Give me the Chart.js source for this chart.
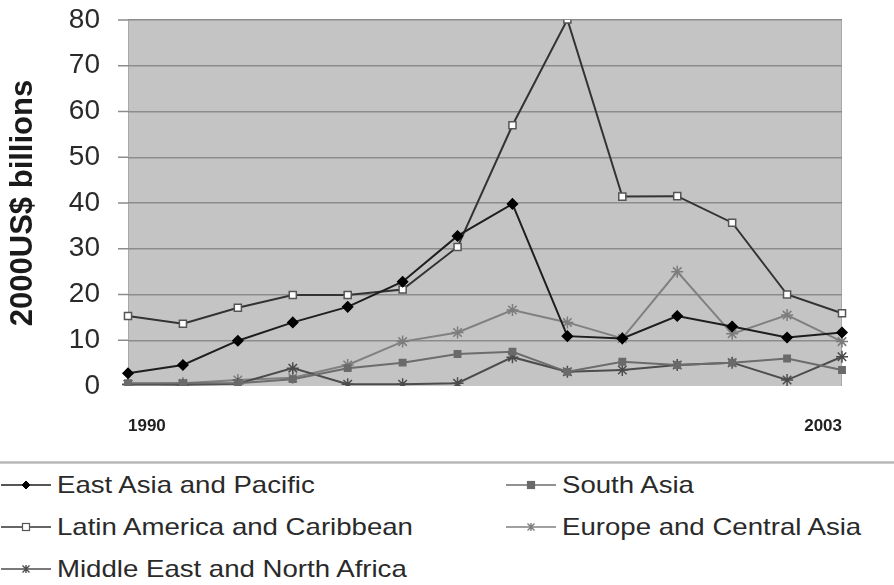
<!DOCTYPE html>
<html>
<head>
<meta charset="utf-8">
<script src="https://cdn.jsdelivr.net/npm/chart.js@4.4.1/dist/chart.umd.min.js"></script>
<style>
  html, body { margin: 0; padding: 0; background: #fff; }
  #wrap { position: relative; width: 894px; height: 585px; overflow: hidden; background: #fff; }
  #chartBox { position: absolute; left: 0; top: 0; width: 894px; height: 460px; }
  #rule { position: absolute; left: 0; top: 461px; width: 894px; height: 3px;
          background: linear-gradient(#d6d6d6, #b4b4b4, #d6d6d6); }
  .item { position: absolute; height: 30px; display: flex; align-items: center; }
  .item svg { flex: none; }
  .item span { display: inline-block; margin-left: 5px; font-family: "Liberation Sans", Arial, sans-serif;
               font-size: 24px; color: #2a2a2a; white-space: nowrap;
               transform: scaleX(1.15); transform-origin: left center; }
</style>
</head>
<body>
<div id="wrap">
  <div id="chartBox"><canvas id="c" width="894" height="460"></canvas></div>
  <div id="rule"></div>
  <div id="legend"></div>
</div>
<script>
// Years on the category axis
const years = ['1990','1991','1992','1993','1994','1995','1996','1997','1998','1999','2000','2001','2002','2003'];

// Flows by region, 2000US$ billions
const eastAsiaPacific      = [2.8, 4.6, 9.9, 13.9, 17.3, 22.8, 32.8, 39.8, 10.9, 10.4, 15.3, 13.0, 10.6, 11.7];
const latinAmericaCaribbean = [15.3, 13.6, 17.1, 19.9, 19.9, 21.1, 30.4, 57.0, 80.1, 41.4, 41.5, 35.7, 20.0, 15.9];
const southAsia            = [0.6, 0.6, 0.6, 1.5, 3.9, 5.1, 7.0, 7.5, 3.1, 5.3, 4.6, 5.1, 6.0, 3.5];
const europeCentralAsia    = [0.3, 0.6, 1.3, 1.8, 4.6, 9.7, 11.7, 16.6, 13.9, 10.4, 25.0, 11.4, 15.5, 9.7];
const middleEastNAfrica    = [0.4, 0.3, 0.5, 3.9, 0.4, 0.4, 0.6, 6.3, 3.1, 3.5, 4.6, 5.1, 1.3, 6.4];

// Value axis ticks
const yTicks = [0, 10, 20, 30, 40, 50, 60, 70, 80];

const styles = {
  'East Asia and Pacific':        { line: '#1e1e1e', style: 'rectRot', r: 5, fill: '#000', stroke: '#000' },
  'Latin America and Caribbean':  { line: '#333333', style: 'rect', r: 5, fill: '#fff', stroke: '#555' },
  'South Asia':                   { line: '#6c6c6c', style: 'rect', r: 4.5, fill: '#6a6a6a', stroke: '#6a6a6a' },
  'Europe and Central Asia':      { line: '#808080', style: 'star', r: 6, fill: '#7c7c7c', stroke: '#7c7c7c' },
  'Middle East and North Africa': { line: '#4c4c4c', style: 'star', r: 6, fill: '#4c4c4c', stroke: '#4c4c4c' }
};

const valuesByName = {
  'East Asia and Pacific': eastAsiaPacific,
  'Latin America and Caribbean': latinAmericaCaribbean,
  'South Asia': southAsia,
  'Europe and Central Asia': europeCentralAsia,
  'Middle East and North Africa': middleEastNAfrica
};

const drawOrder = ['East Asia and Pacific', 'Latin America and Caribbean', 'South Asia',
                   'Middle East and North Africa', 'Europe and Central Asia'];

const datasets = drawOrder.map(name => {
  const s = styles[name];
  return {
    label: name,
    data: valuesByName[name],
    borderColor: s.line,
    borderWidth: 2,
    tension: 0,
    pointStyle: s.style,
    pointRadius: s.r,
    pointBackgroundColor: s.fill,
    pointBorderColor: s.stroke,
    pointBorderWidth: 1.5
  };
});

// Grey plotting area, plus short tick marks left of each gridline
const plotBackground = {
  id: 'plotBackground',
  beforeDraw(chart) {
    const { ctx, chartArea: a } = chart;
    const y = chart.scales.y;
    ctx.save();
    ctx.fillStyle = '#c4c4c4';
    ctx.fillRect(a.left, a.top, a.right - a.left, a.bottom - a.top);
    ctx.strokeStyle = '#a8a8a8';
    ctx.lineWidth = 1;
    ctx.beginPath();
    ctx.moveTo(a.left + 0.5, a.top); ctx.lineTo(a.left + 0.5, a.bottom);
    ctx.moveTo(a.right - 0.5, a.top); ctx.lineTo(a.right - 0.5, a.bottom);
    ctx.stroke();
    ctx.strokeStyle = '#8c8c8c';
    ctx.lineWidth = 1.5;
    ctx.beginPath();
    yTicks.forEach(v => {
      if (v === 0) return;
      const py = y.getPixelForValue(v);
      ctx.moveTo(a.left - 10, py); ctx.lineTo(a.left, py);
    });
    ctx.stroke();
    ctx.restore();
  }
};

new Chart(document.getElementById('c'), {
  type: 'line',
  data: { labels: years, datasets },
  plugins: [plotBackground],
  options: {
    responsive: false,
    animation: false,
    layout: { padding: { top: 0, right: 52, left: 0, bottom: 0 } },
    plugins: { legend: { display: false }, tooltip: { enabled: false } },
    scales: {
      x: {
        type: 'category',
        offset: false,
        grid: { display: false, drawTicks: false },
        border: { display: false },
        afterFit(scale) { scale.height = 74; },
        ticks: {
          autoSkip: false,
          maxRotation: 0,
          align: 'inner',
          padding: 30,
          color: '#222',
          font: { family: 'Liberation Sans', size: 17, weight: 'bold' },
          callback(value, index) {
            return (index === 0 || index === years.length - 1) ? years[index] : '';
          }
        }
      },
      y: {
        min: 0,
        max: 80,
        afterBuildTicks(scale) { scale.ticks = yTicks.map(v => ({ value: v })); },
        afterFit(scale) { scale.width = 128; },
        border: { display: false },
        grid: {
          color: ctx => (ctx.tick && ctx.tick.value === 0) ? 'rgba(0,0,0,0)' : '#8c8c8c',
          lineWidth: 1.5,
          drawTicks: true,
          tickLength: 22,
          tickColor: 'rgba(0,0,0,0)'
        },
        ticks: {
          padding: 6,
          color: '#2a2a2a',
          font: { family: 'Liberation Sans', size: 28, lineHeight: 1.0 }
        },
        title: {
          display: true,
          text: '2000US$ billions',
          color: '#1a1a1a',
          padding: { top: 5, bottom: 0 },
          font: { family: 'Liberation Sans', size: 31, weight: 'bold' }
        }
      }
    }
  }
});

// Legend beneath the chart: two columns, rows at fixed spacing
const legendSlots = [
  { name: 'East Asia and Pacific', x: 0, y: 485 },
  { name: 'Latin America and Caribbean', x: 0, y: 527 },
  { name: 'Middle East and North Africa', x: 0, y: 569 },
  { name: 'South Asia', x: 505, y: 485 },
  { name: 'Europe and Central Asia', x: 505, y: 527 }
];

function markerSvg(s) {
  const cx = 26, cy = 10;
  let m = '';
  if (s.style === 'rectRot') {
    m = `<polygon points="${cx},${cy-4} ${cx+4},${cy} ${cx},${cy+4} ${cx-4},${cy}" fill="${s.fill}" stroke="${s.stroke}" stroke-width="1"/>`;
  } else if (s.style === 'rect') {
    m = `<rect x="${cx-3.5}" y="${cy-3.5}" width="7" height="7" fill="${s.fill}" stroke="${s.stroke}" stroke-width="1.2"/>`;
  } else {
    m = `<path d="M${cx-3.5},${cy-3.5}L${cx+3.5},${cy+3.5}M${cx-3.5},${cy+3.5}L${cx+3.5},${cy-3.5}M${cx},${cy-4}L${cx},${cy+4}" stroke="${s.stroke}" stroke-width="1.4"/>`;
  }
  return `<svg width="52" height="20" viewBox="0 0 52 20"><line x1="1" y1="${cy}" x2="51" y2="${cy}" stroke="${s.line}" stroke-width="1.6"/>${m}</svg>`;
}

const legendEl = document.getElementById('legend');
legendSlots.forEach(slot => {
  const d = document.createElement('div');
  d.className = 'item';
  d.style.left = slot.x + 'px';
  d.style.top = (slot.y - 15) + 'px';
  d.innerHTML = markerSvg(styles[slot.name]) + '<span>' + slot.name + '</span>';
  legendEl.appendChild(d);
});
</script>
</body>
</html>
